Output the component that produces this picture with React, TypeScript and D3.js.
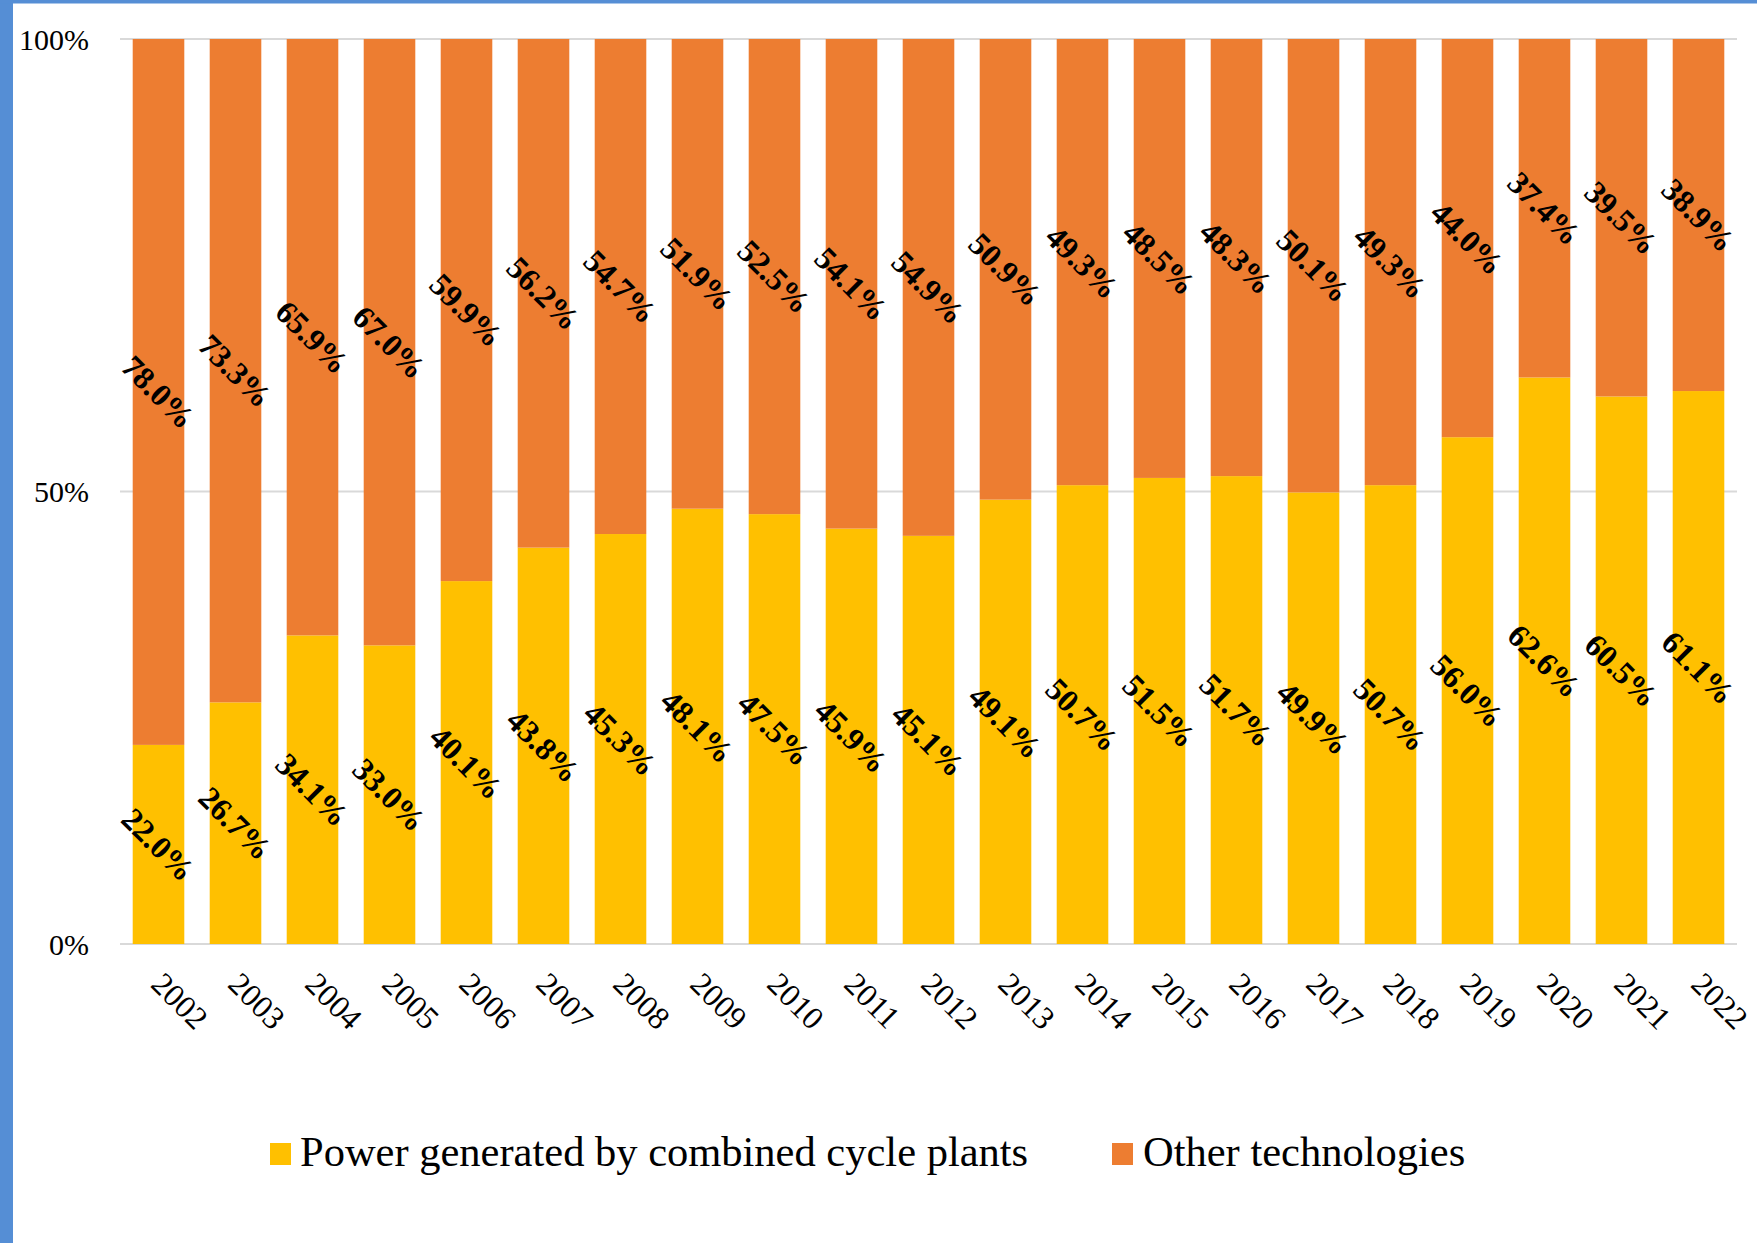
import React from 'react';
import * as d3 from 'd3';

const years = ['2002', '2003', '2004', '2005', '2006', '2007', '2008', '2009', '2010', '2011', '2012',
  '2013', '2014', '2015', '2016', '2017', '2018', '2019', '2020', '2021', '2022'];
const combinedCycle = [22.0, 26.7, 34.1, 33.0, 40.1, 43.8, 45.3, 48.1, 47.5, 45.9, 45.1,
  49.1, 50.7, 51.5, 51.7, 49.9, 50.7, 56.0, 62.6, 60.5, 61.1];
const otherTech = [78.0, 73.3, 65.9, 67.0, 59.9, 56.2, 54.7, 51.9, 52.5, 54.1, 54.9,
  50.9, 49.3, 48.5, 48.3, 50.1, 49.3, 44.0, 37.4, 39.5, 38.9];
const yTicks = [0, 50, 100];
const seriesNames = ['Power generated by combined cycle plants', 'Other technologies'];
const seriesColors = ['#FFC000', '#ED7D31'];

const W = 1757;
const H = 1243;
const FONT = '"Liberation Serif", "Times New Roman", serif';

const App = () => {
  const x = d3.scaleBand<string>()
    .domain(years)
    .range([120, 1737])
    .paddingInner(0.33)
    .paddingOuter(0.165);

  const y = d3.scaleLinear().domain([0, 100]).range([944, 39]);

  const rows = years.map((yr, i) => ({ year: yr, cc: combinedCycle[i], other: otherTech[i] }));
  const stacked = d3.stack<any>().keys(['cc', 'other'])(rows);

  return (
    <svg width={W} height={H} style={{ position: 'absolute', left: 0, top: 0, background: '#fff' }}>
      <rect x={0} y={0} width={W} height={H} fill="#fff" />
      {/* frame */}
      <rect x={0} y={0} width={13} height={H} fill="#558ED5" />
      <rect x={0} y={0} width={W} height={3.5} fill="#558ED5" />

      {/* grid */}
      {yTicks.map(t => (
        <g key={t}>
          <line x1={120} x2={1737} y1={y(t)} y2={y(t)} stroke="#D9D9D9" strokeWidth={2} />
          <text x={89} y={y(t)} dy="0.35em" textAnchor="end" fontFamily={FONT} fontSize={30} fill="#000">
            {t}%
          </text>
        </g>
      ))}

      {/* bars */}
      {stacked.map((s, si) => (
        <g key={s.key} fill={seriesColors[si]}>
          {s.map((d: any) => (
            <rect key={d.data.year}
              x={x(d.data.year)}
              y={y(d[1])}
              width={x.bandwidth()}
              height={y(d[0]) - y(d[1])} />
          ))}
        </g>
      ))}

      {/* data labels */}
      {stacked.map(s => (
        <g key={'l' + s.key}>
          {s.map((d: any) => {
            const cx = (x(d.data.year) as number) + x.bandwidth() / 2;
            const cy = (y(d[0]) + y(d[1])) / 2;
            return (
              <text key={d.data.year}
                transform={`translate(${cx},${cy}) rotate(45)`}
                textAnchor="middle" dy="0.35em"
                fontFamily={FONT} fontSize={32} fontWeight="bold" fill="#000">
                {(d[1] - d[0]).toFixed(1)}%
              </text>
            );
          })}
        </g>
      ))}

      {/* x axis labels */}
      {years.map(yr => {
        const cx = (x(yr) as number) + x.bandwidth() / 2;
        return (
          <text key={yr} transform={`translate(${cx - 9},${986}) rotate(45)`}
            fontFamily={FONT} fontSize={32} fill="#000">
            {yr}
          </text>
        );
      })}

      {/* legend */}
      <rect x={270} y={1143} width={21} height={22} fill={seriesColors[0]} />
      <text x={300} y={1166} fontFamily={FONT} fontSize={42.5} fill="#000">{seriesNames[0]}</text>
      <rect x={1112} y={1143} width={21} height={22} fill={seriesColors[1]} />
      <text x={1143} y={1166} fontFamily={FONT} fontSize={42.5} fill="#000">{seriesNames[1]}</text>
    </svg>
  );
};

export default App;
